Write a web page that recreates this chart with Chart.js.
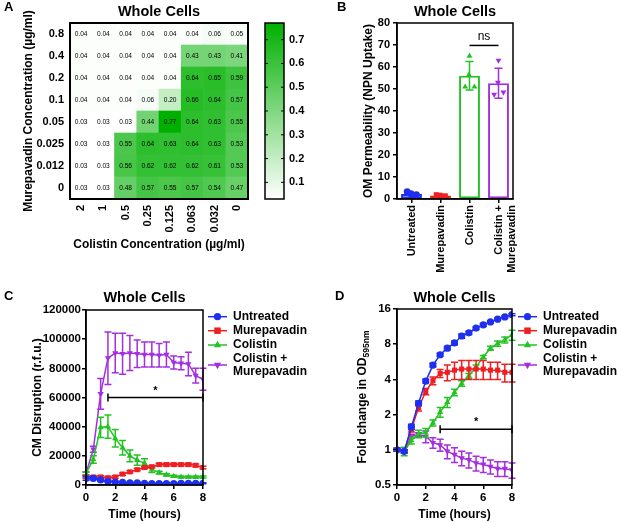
<!DOCTYPE html>
<html>
<head>
<meta charset="utf-8">
<script src="https://cdn.jsdelivr.net/npm/chart.js@4.4.1/dist/chart.umd.min.js"></script>
<style>
  html, body { margin: 0; padding: 0; background: #fff; }
  body { width: 617px; height: 522px; position: relative; overflow: hidden; }
  canvas { position: absolute; }
</style>
</head>
<body>
<canvas id="heat" style="left:0;top:0" width="300" height="260"></canvas>
<canvas id="cbar" style="left:240px;top:0" width="75" height="260"></canvas>
<canvas id="npn" style="left:300px;top:0" width="317" height="285"></canvas>
<canvas id="cm" style="left:0;top:285px" width="310" height="237"></canvas>
<canvas id="od" style="left:300px;top:285px" width="317" height="237"></canvas>
<script>
// ===================== DATA =====================
// A: checkerboard (rows = murepavadin, bottom -> top)
const colistinLabels = ["2", "1", "0.5", "0.25", "0.125", "0.063", "0.032", "0"];
const murepavadinLabels = ["0", "0.012", "0.025", "0.05", "0.1", "0.2", "0.4", "0.8"];
const heatMur0 = [0.03, 0.03, 0.48, 0.57, 0.55, 0.57, 0.54, 0.47];
const heatMur0012 = [0.03, 0.03, 0.56, 0.62, 0.62, 0.62, 0.61, 0.53];
const heatMur0025 = [0.03, 0.03, 0.55, 0.64, 0.63, 0.64, 0.63, 0.53];
const heatMur005 = [0.03, 0.03, 0.03, 0.44, 0.77, 0.64, 0.63, 0.55];
const heatMur01 = [0.04, 0.04, 0.04, 0.06, 0.20, 0.66, 0.64, 0.57];
const heatMur02 = [0.04, 0.04, 0.04, 0.04, 0.04, 0.64, 0.65, 0.59];
const heatMur04 = [0.04, 0.04, 0.04, 0.04, 0.04, 0.43, 0.43, 0.41];
const heatMur08 = [0.04, 0.04, 0.04, 0.04, 0.04, 0.04, 0.06, 0.05];
const colorbarTicks = [0.1, 0.2, 0.3, 0.4, 0.5, 0.6, 0.7];
const colorbarMin = 0.03;
const colorbarMax = 0.77;

// B: NPN uptake
const npnLabels = ["Untreated", "Murepavadin", "Colistin", ["Colistin +", "Murepavadin"]];
const npnMeans = [2.3, 1.6, 56, 52.6];
const npnSd = [0.5, 0.3, 6.5, 6.8];
const npnUntreatedPts = [2.0, 2.4, 3.3, 2.0];
const npnMurepavadinPts = [1.5, 1.8, 2.0, 1.5];
const npnColistinPts = [65, 56.5, 51, 51];
const npnComboPts = [63, 53, 47.5, 48.5];
const npnJitter = [0, -0.02, -0.15, 0.17];

// C & D: time courses
const hours = [0, 0.5, 1, 1.5, 2, 2.5, 3, 3.5, 4, 4.5, 5, 5.5, 6, 6.5, 7, 7.5, 8];
const seriesNames = ["Untreated", "Murepavadin", "Colistin", ["Colistin +", "Murepavadin"]];

const cmUntreated = [4500, 4500, 3500, 2500, 2000, 1800, 1500, 1500, 1200, 1000, 1000, 1000, 1000, 1200, 1200, 1200, 1200];
const cmUntreatedSd = [1200, 800, 800, 500, 400, 300, 300, 300, 300, 300, 300, 300, 300, 300, 300, 300, 300];
const cmMurepavadin = [5500, 5500, 5500, 5000, 5500, 7500, 9000, 10500, 12000, 12500, 14000, 14000, 14000, 14000, 14000, 13500, 12000];
const cmMurepavadinSd = [800, 800, 800, 800, 800, 800, 800, 800, 900, 900, 900, 900, 900, 900, 900, 900, 900];
const cmColistin = [8000, 17500, 39500, 40000, 32000, 25500, 20000, 17000, 15000, 10500, 8500, 7000, 6000, 5500, 5500, 5500, 5500];
const cmColistinSd = [1000, 2500, 7000, 8000, 6000, 5000, 4000, 3500, 3000, 2000, 1000, 800, 700, 700, 700, 700, 700];
const cmCombo = [8000, 24500, 62500, 87000, 90500, 90000, 90500, 90000, 89500, 89500, 89000, 89500, 84000, 83500, 83000, 75000, 72500];
const cmComboSd = [1000, 2000, 10500, 18000, 13500, 14000, 12000, 9500, 8500, 8500, 8000, 8500, 4500, 4500, 8000, 5000, 7500];

const odUntreated = [1.0, 0.97, 1.57, 2.5, 3.87, 5.3, 6.5, 7.4, 8.2, 9.4, 10.0, 11.0, 11.7, 12.4, 13.1, 13.7, 14.3];
const odUntreatedSd = [0.03, 0.03, 0.08, 0.12, 0.15, 0.2, 0.2, 0.25, 0.3, 0.4, 0.3, 0.3, 0.3, 0.3, 0.3, 0.3, 0.3];
const odMurepavadin = [1.0, 0.97, 1.5, 2.3, 3.15, 3.9, 4.5, 4.6, 4.8, 4.9, 4.9, 4.9, 4.9, 4.8, 4.8, 4.6, 4.6];
const odMurepavadinSd = [0.03, 0.03, 0.08, 0.15, 0.2, 0.3, 0.35, 0.7, 0.8, 0.9, 0.9, 0.9, 0.9, 0.8, 0.8, 0.8, 0.8];
const odColistin = [1.0, 0.97, 1.2, 1.37, 1.4, 1.7, 2.1, 2.55, 3.1, 3.7, 4.3, 5.1, 6.2, 7.4, 8.1, 8.7, 9.6];
const odColistinSd = [0.03, 0.08, 0.08, 0.1, 0.12, 0.1, 0.2, 0.25, 0.2, 0.2, 0.2, 0.2, 0.2, 0.3, 0.4, 0.5, 0.95];
const odCombo = [1.0, 0.97, 1.31, 1.35, 1.3, 1.15, 1.1, 0.97, 0.91, 0.85, 0.82, 0.77, 0.75, 0.72, 0.69, 0.69, 0.67];
const odComboSd = [0.03, 0.03, 0.05, 0.05, 0.15, 0.12, 0.13, 0.13, 0.13, 0.12, 0.12, 0.11, 0.11, 0.1, 0.1, 0.1, 0.1];
const odTicks = [0.5, 1, 2, 4, 8, 16];

// ===================== STYLE =====================
const FONT = "'Liberation Sans', Arial, Helvetica, sans-serif";
const BLUE = "#1f2ff0";
const RED = "#ee1e22";
const GREEN = "#22c322";
const PURPLE = "#a22fe0";

Chart.defaults.font.family = FONT;
Chart.defaults.color = "#000";
Chart.defaults.animation = false;
Chart.defaults.plugins.legend.display = false;
Chart.defaults.plugins.tooltip.enabled = false;

function greenFor(v) {
  const t = Math.max(0, Math.min(1, (v - colorbarMin) / (colorbarMax - colorbarMin)));
  const r = Math.round(255 * (1 - t));
  const g = Math.round(255 - 79 * t);
  return `rgb(${r},${g},${r})`;
}

function drawMarker(ctx, style, x, y, r, color) {
  ctx.fillStyle = color;
  ctx.beginPath();
  if (style === "circle") {
    ctx.arc(x, y, r, 0, Math.PI * 2);
  } else if (style === "rect") {
    ctx.rect(x - r * 0.9, y - r * 0.9, r * 1.8, r * 1.8);
  } else if (style === "triangle") {
    ctx.moveTo(x, y - r * 1.15);
    ctx.lineTo(x + r, y + r * 0.6);
    ctx.lineTo(x - r, y + r * 0.6);
  } else {
    ctx.moveTo(x, y + r * 1.15);
    ctx.lineTo(x + r, y - r * 0.6);
    ctx.lineTo(x - r, y - r * 0.6);
  }
  ctx.closePath();
  ctx.fill();
}

// panel letter + "Whole Cells" title
const panelText = {
  id: "panelText",
  afterDraw(chart, args, o) {
    const { ctx, chartArea } = chart;
    ctx.save();
    ctx.fillStyle = "#000";
    ctx.textBaseline = "middle";
    if (o.letter) {
      ctx.font = `bold 13px ${FONT}`;
      ctx.textAlign = "left";
      ctx.fillText(o.letter, o.lx, o.ly);
    }
    if (o.title) {
      ctx.font = `bold 14.5px ${FONT}`;
      ctx.textAlign = "center";
      ctx.fillText(o.title, (chartArea.left + chartArea.right) / 2, o.ty);
    }
    ctx.restore();
  }
};

// black box round the plot area
const frame = {
  id: "frame",
  afterDraw(chart, args, o) {
    const { ctx, chartArea: a } = chart;
    ctx.save();
    ctx.strokeStyle = "#000";
    ctx.lineWidth = o.width || 1.5;
    ctx.strokeRect(a.left, a.top, a.right - a.left, a.bottom - a.top);
    if (o.innerTicks) {
      const ys = chart.scales.y;
      ctx.lineWidth = 1;
      ys.ticks.forEach(t => {
        const y = ys.getPixelForValue(t.value);
        ctx.beginPath();
        ctx.moveTo(a.left, y); ctx.lineTo(a.left + 3, y);
        ctx.moveTo(a.right, y); ctx.lineTo(a.right - 3, y);
        ctx.stroke();
      });
    }
    ctx.restore();
  }
};

// SD error bars, read from dataset.sd
function drawErrors(chart, index) {
  const ds = chart.data.datasets[index];
  if (!ds.sd) return;
  const { ctx } = chart;
  const ys = chart.scales.y;
  const meta = chart.getDatasetMeta(index);
  ctx.save();
  ctx.strokeStyle = ds.borderColor;
  ctx.lineWidth = 1.5;
  meta.data.forEach((el, j) => {
    const v = ds.data[j].y;
    const s = ds.sd[j];
    const top = ys.getPixelForValue(v + s);
    const bot = ys.getPixelForValue(v - s);
    const w = ds.capWidth || 3.5;
    ctx.strokeStyle = Array.isArray(ds.borderColor) ? ds.borderColor[j] : ds.borderColor;
    ctx.beginPath();
    ctx.moveTo(el.x, top); ctx.lineTo(el.x, bot);
    ctx.moveTo(el.x - w, top); ctx.lineTo(el.x + w, top);
    ctx.moveTo(el.x - w, bot); ctx.lineTo(el.x + w, bot);
    ctx.stroke();
  });
  ctx.restore();
}

const errorBars = {
  id: "errorBars",
  beforeDatasetDraw(chart, args) {
    if (chart.data.datasets[args.index].type !== "bar") drawErrors(chart, args.index);
  },
  afterDatasetDraw(chart, args) {
    if (chart.data.datasets[args.index].type === "bar") drawErrors(chart, args.index);
  }
};

// significance bracket
const bracket = {
  id: "bracket",
  afterDraw(chart, args, o) {
    const { ctx } = chart;
    const xs = chart.scales.x, ys = chart.scales.y;
    const x1 = xs.getPixelForValue(o.x1), x2 = xs.getPixelForValue(o.x2);
    const y = ys.getPixelForValue(o.y);
    ctx.save();
    ctx.strokeStyle = "#000";
    ctx.fillStyle = "#000";
    ctx.lineWidth = 1.5;
    ctx.beginPath();
    ctx.moveTo(x1, y); ctx.lineTo(x2, y);
    if (o.cap) {
      ctx.moveTo(x1, y - o.cap); ctx.lineTo(x1, y + o.cap);
      ctx.moveTo(x2, y - o.cap); ctx.lineTo(x2, y + o.cap);
    }
    ctx.stroke();
    ctx.font = o.font;
    ctx.textAlign = "center";
    ctx.textBaseline = "middle";
    ctx.fillText(o.text, (x1 + x2) / 2, y - o.dy);
    ctx.restore();
  }
};

// legend at the right of C and D
const sideLegend = {
  id: "sideLegend",
  afterDraw(chart, args, o) {
    const { ctx } = chart;
    ctx.save();
    ctx.font = `bold 12px ${FONT}`;
    ctx.textAlign = "left";
    ctx.textBaseline = "middle";
    chart.data.datasets.forEach((ds, i) => {
      const y = o.rows[i];
      ctx.strokeStyle = ds.borderColor;
      ctx.lineWidth = 1.5;
      ctx.beginPath();
      ctx.moveTo(o.x, y); ctx.lineTo(o.x + 19, y);
      ctx.stroke();
      drawMarker(ctx, ds.marker, o.x + 9.5, y, 3.6, ds.borderColor);
      ctx.fillStyle = "#000";
      const lines = Array.isArray(ds.label) ? ds.label : [ds.label];
      if (lines.length === 1) {
        ctx.fillText(lines[0], o.x + 25, y);
      } else {
        ctx.fillText(lines[0], o.x + 25, y - 6.8);
        ctx.fillText(lines[1], o.x + 25, y + 7);
      }
    });
    ctx.restore();
  }
};

// ===================== A: HEATMAP =====================
const heatRows = [heatMur0, heatMur0012, heatMur0025, heatMur005, heatMur01, heatMur02, heatMur04, heatMur08];

const cellText = {
  id: "cellText",
  afterDatasetsDraw(chart) {
    const { ctx } = chart;
    ctx.save();
    ctx.font = `6.6px ${FONT}`;
    ctx.fillStyle = "#000";
    ctx.textAlign = "center";
    ctx.textBaseline = "middle";
    chart.data.datasets.forEach((ds, i) => {
      chart.getDatasetMeta(i).data.forEach((el, j) => {
        ctx.fillText(ds.values[j].toFixed(2), el.x, (el.y + el.base) / 2 + 0.5);
      });
    });
    ctx.restore();
  }
};

new Chart(document.getElementById("heat"), {
  type: "bar",
  data: {
    labels: colistinLabels,
    datasets: heatRows.map(row => ({
      data: colistinLabels.map(() => 1),
      values: row,
      backgroundColor: row.map(greenFor),
      borderWidth: 0,
      barPercentage: 1,
      categoryPercentage: 1
    }))
  },
  options: {
    responsive: false,
    layout: { padding: { top: 23, right: 52, left: 0, bottom: 0 } },
    scales: {
      x: {
        stacked: true,
        grid: { display: false, drawTicks: false },
        border: { display: false },
        ticks: { font: { size: 11, weight: "bold" }, minRotation: 90, maxRotation: 90, padding: 6, autoSkip: false },
        title: { display: true, text: "Colistin Concentration (µg/ml)", font: { size: 12, weight: "bold" }, padding: { top: 0, bottom: 8 } },
        afterFit(s) { s.height = 61; }
      },
      y: {
        stacked: true,
        min: 0,
        max: 8,
        grid: { display: false, drawTicks: false },
        border: { display: false },
        afterBuildTicks(s) { s.ticks = murepavadinLabels.map((_, i) => ({ value: i + 0.5 })); },
        ticks: { font: { size: 11, weight: "bold" }, padding: 6, callback: (v, i) => murepavadinLabels[i] },
        title: { display: true, text: "Murepavadin Concentration (µg/ml)", font: { size: 12, weight: "bold" }, padding: { top: 21, bottom: 0 } },
        afterFit(s) { s.width = 70; }
      }
    },
    plugins: {
      panelText: { letter: "A", lx: 4, ly: 7, title: "Whole Cells", ty: 12 },
      frame: { width: 2 }
    }
  },
  plugins: [cellText, frame, panelText]
});

// colour bar
new Chart(document.getElementById("cbar"), {
  type: "bar",
  data: {
    labels: ["scale"],
    datasets: [{
      data: [[colorbarMin, colorbarMax]],
      barPercentage: 1,
      categoryPercentage: 1,
      borderWidth: 0,
      backgroundColor(c) {
        const ch = c.chart;
        if (!ch.chartArea) return "#fff";
        const ys = ch.scales.y;
        const g = ch.ctx.createLinearGradient(0, ys.getPixelForValue(colorbarMin), 0, ys.getPixelForValue(colorbarMax));
        g.addColorStop(0, greenFor(colorbarMin));
        g.addColorStop(1, greenFor(colorbarMax));
        return g;
      }
    }]
  },
  options: {
    responsive: false,
    layout: { padding: { top: 23, left: 25, right: 0, bottom: 61 } },
    scales: {
      x: { display: false },
      y: {
        position: "right",
        min: colorbarMin,
        max: colorbarMax,
        grid: { display: false, drawTicks: false },
        border: { display: false },
        afterBuildTicks(s) { s.ticks = colorbarTicks.map(v => ({ value: v })); },
        ticks: { font: { size: 11, weight: "bold" }, padding: 5, callback: v => v.toFixed(1) },
        afterFit(s) { s.width = 31; }
      }
    },
    plugins: { frame: { width: 1.5, innerTicks: true } }
  },
  plugins: [frame]
});

// ===================== B: NPN BARS =====================
const npnColors = [BLUE, RED, GREEN, PURPLE];
const npnPoints = [npnUntreatedPts, npnMurepavadinPts, npnColistinPts, npnComboPts];
const npnMarkers = ["circle", "rect", "triangle", "triangle"];

new Chart(document.getElementById("npn"), {
  type: "bar",
  data: {
    datasets: [
      {
        type: "bar",
        order: 2,
        data: npnMeans.map((m, i) => ({ x: i, y: m })),
        sd: npnSd,
        capWidth: 4,
        borderColor: npnColors,
        backgroundColor: "#fff",
        borderWidth: 2,
        borderSkipped: false,
        barPercentage: 0.72,
        categoryPercentage: 1
      },
      ...npnPoints.map((pts, i) => ({
        type: "scatter",
        order: 1,
        data: pts.map((v, j) => ({ x: i + npnJitter[j], y: v })),
        pointStyle: npnMarkers[i],
        rotation: i === 3 ? 180 : 0,
        pointRadius: 3.4,
        backgroundColor: npnColors[i],
        borderColor: npnColors[i],
        borderWidth: 0
      }))
    ]
  },
  options: {
    responsive: false,
    layout: { padding: { top: 23, right: 104, left: 0, bottom: 0 } },
    scales: {
      x: {
        type: "linear",
        min: -0.5,
        max: 3.5,
        offset: false,
        grid: { offset: false, drawOnChartArea: false, color: "#000", lineWidth: 1.5, tickLength: 4 },
        border: { color: "#000", width: 1.5 },
        afterBuildTicks(s) { s.ticks = npnLabels.map((_, i) => ({ value: i })); },
        ticks: { font: { size: 11, weight: "bold" }, minRotation: 90, maxRotation: 90, padding: 2, autoSkip: false, callback: (v, i) => npnLabels[i] },
        afterFit(s) { s.height = 86; }
      },
      y: {
        min: 0,
        max: 80,
        grid: { drawOnChartArea: false, color: "#000", lineWidth: 1.5, tickLength: 4 },
        border: { color: "#000", width: 1.5 },
        ticks: { stepSize: 10, font: { size: 11, weight: "bold" }, padding: 3 },
        title: { display: true, text: "OM Permeability (NPN Uptake)", font: { size: 12, weight: "bold" }, padding: { top: 61, bottom: 0 } },
        afterFit(s) { s.width = 97; }
      }
    },
    plugins: {
      panelText: { letter: "B", lx: 37, ly: 7, title: "Whole Cells", ty: 12 },
      frame: { width: 1.5 },
      bracket: { x1: 2, x2: 3, y: 69.8, cap: 0, text: "ns", dy: 9, font: `12px ${FONT}` }
    }
  },
  plugins: [errorBars, frame, bracket, panelText]
});

// ===================== C & D: TIME COURSES =====================
function lineSet(label, values, sd, color, marker) {
  return {
    type: "line",
    label,
    data: hours.map((h, i) => ({ x: h, y: values[i] })),
    sd,
    capWidth: 3.5,
    marker,
    borderColor: color,
    backgroundColor: color,
    borderWidth: 1.5,
    pointStyle: marker === "invtriangle" ? "triangle" : marker,
    pointRotation: marker === "invtriangle" ? 180 : 0,
    pointRadius: 3.6,
    pointBorderWidth: 0,
    tension: 0
  };
}

const timeAxis = {
  type: "linear",
  min: 0,
  max: 8,
  grid: { drawOnChartArea: false, color: "#000", lineWidth: 1.5, tickLength: 4 },
  border: { color: "#000", width: 1.5 },
  ticks: { stepSize: 2, font: { size: 11.5, weight: "bold" }, padding: 2 },
  title: { display: true, text: "Time (hours)", font: { size: 12, weight: "bold" }, padding: { top: 0, bottom: 0 } },
  afterFit(s) { s.height = 37; }
};

new Chart(document.getElementById("cm"), {
  type: "line",
  data: {
    datasets: [
      lineSet(seriesNames[0], cmUntreated, cmUntreatedSd, BLUE, "circle"),
      lineSet(seriesNames[1], cmMurepavadin, cmMurepavadinSd, RED, "rect"),
      lineSet(seriesNames[2], cmColistin, cmColistinSd, GREEN, "triangle"),
      lineSet(seriesNames[3], cmCombo, cmComboSd, PURPLE, "invtriangle")
    ]
  },
  options: {
    responsive: false,
    layout: { padding: { top: 25, right: 107, left: 0, bottom: 0 } },
    scales: {
      x: timeAxis,
      y: {
        min: 0,
        max: 120000,
        grid: { drawOnChartArea: false, color: "#000", lineWidth: 1.5, tickLength: 4 },
        border: { color: "#000", width: 1.5 },
        ticks: { stepSize: 20000, font: { size: 11.5, weight: "bold" }, padding: 1, callback: v => String(v) },
        title: { display: true, text: "CM Disruption (r.f.u.)", font: { size: 12, weight: "bold" }, padding: { top: 30, bottom: 0 } },
        afterFit(s) { s.width = 86; }
      }
    },
    plugins: {
      panelText: { letter: "C", lx: 4, ly: 11, title: "Whole Cells", ty: 13 },
      frame: { width: 1.5 },
      bracket: { x1: 1.5, x2: 8, y: 60000, cap: 4, text: "*", dy: 7, font: `bold 11px ${FONT}` },
      sideLegend: { x: 208, rows: [31.7, 45.7, 60, 80] }
    }
  },
  plugins: [errorBars, frame, bracket, sideLegend, panelText]
});

// D y title with subscript
const odTitle = {
  id: "odTitle",
  afterDraw(chart) {
    const { ctx, chartArea } = chart;
    const main = "Fold change in OD";
    const sub = "595nm";
    ctx.save();
    ctx.fillStyle = "#000";
    ctx.translate(63, (chartArea.top + chartArea.bottom) / 2);
    ctx.rotate(-Math.PI / 2);
    ctx.font = `bold 12px ${FONT}`;
    const w1 = ctx.measureText(main).width;
    ctx.font = `bold 8.5px ${FONT}`;
    const w2 = ctx.measureText(sub).width;
    const x0 = -(w1 + w2) / 2;
    ctx.textBaseline = "middle";
    ctx.textAlign = "left";
    ctx.font = `bold 12px ${FONT}`;
    ctx.fillText(main, x0, 0);
    ctx.font = `bold 8.5px ${FONT}`;
    ctx.fillText(sub, x0 + w1, 3.5);
    ctx.restore();
  }
};

new Chart(document.getElementById("od"), {
  type: "line",
  data: {
    datasets: [
      lineSet(seriesNames[0], odUntreated, odUntreatedSd, BLUE, "circle"),
      lineSet(seriesNames[1], odMurepavadin, odMurepavadinSd, RED, "rect"),
      lineSet(seriesNames[2], odColistin, odColistinSd, GREEN, "triangle"),
      lineSet(seriesNames[3], odCombo, odComboSd, PURPLE, "invtriangle")
    ]
  },
  options: {
    responsive: false,
    layout: { padding: { top: 24, right: 105, left: 0, bottom: 0 } },
    scales: {
      x: timeAxis,
      y: {
        type: "logarithmic",
        min: 0.5,
        max: 16,
        grid: { drawOnChartArea: false, color: "#000", lineWidth: 1.5, tickLength: 4 },
        border: { color: "#000", width: 1.5 },
        afterBuildTicks(s) { s.ticks = odTicks.map(v => ({ value: v })); },
        ticks: { font: { size: 11.5, weight: "bold" }, padding: 2, callback: v => String(v) },
        afterFit(s) { s.width = 97; }
      }
    },
    plugins: {
      panelText: { letter: "D", lx: 35, ly: 11, title: "Whole Cells", ty: 13 },
      frame: { width: 1.5 },
      bracket: { x1: 3, x2: 8, y: 1.5, cap: 4, text: "*", dy: 7, font: `bold 11px ${FONT}` },
      sideLegend: { x: 218, rows: [31.7, 45.7, 60, 80] }
    }
  },
  plugins: [errorBars, frame, bracket, sideLegend, odTitle, panelText]
});
</script>
</body>
</html>
